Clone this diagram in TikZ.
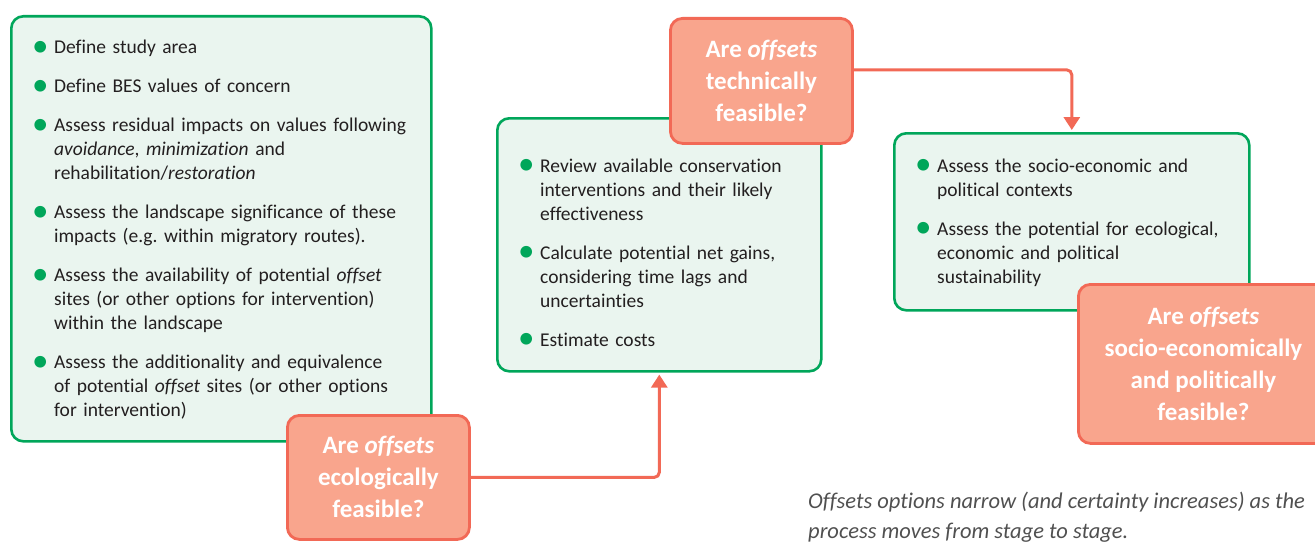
\documentclass[tikz,border=0pt]{standalone}
\usepackage{fontspec}
\setmainfont{Carlito}[Ligatures=NoCommon]
\usepackage{tikz}
\usetikzlibrary{arrows.meta}

\definecolor{stagegreen}{RGB}{0,166,90}
\definecolor{stagefill}{RGB}{234,245,239}
\definecolor{askfill}{RGB}{249,165,141}
\definecolor{askline}{RGB}{242,105,86}
\definecolor{bodytext}{RGB}{35,31,32}
\definecolor{notegray}{RGB}{80,80,80}

\newcommand\gbullet{\makebox[22pt][l]{\textcolor{stagegreen}{\fontsize{33}{33}\selectfont\raisebox{-2.7pt}{\textbullet}}}}
\newcommand\bitem[1]{\noindent\hangindent=22pt\hangafter=1\gbullet#1\par}
\newcommand\itemgap{\par\vspace{15pt}}

\begin{document}
\begin{tikzpicture}[x=1pt,y=-1pt,
  stagebox/.style={draw=stagegreen,fill=stagefill,line width=2.6pt,rounded corners=12pt,anchor=north west,inner sep=0pt},
  stagelist/.style={anchor=base west,inner sep=0pt,align=left,text=bodytext,font=\fontsize{19.5}{24}\selectfont},
  askbox/.style={draw=askline,fill=askfill,line width=2.8pt,rounded corners=12pt,anchor=north west,inner sep=0pt,align=center,text=white,font=\bfseries\fontsize{25}{32}\selectfont},
  flow/.style={draw=askline,line width=3pt,rounded corners=5pt,shorten >=2pt,-{Triangle[width=16pt,length=13pt]}}]

\useasboundingbox (0,0) rectangle (1315,543);

% stages
\node[stagebox,minimum width=420pt,minimum height=425pt] (boxA) at (10,15) {};
\node[stagebox,minimum width=324pt,minimum height=253pt] (boxB) at (496,117) {};
\node[stagebox,minimum width=355pt,minimum height=177pt] (boxC) at (893,132) {};

\node[stagelist,text width=395pt] (listA) at (32,54) {%
  \bitem{Define study area}\itemgap
  \bitem{Define BES values of concern}\itemgap
  \bitem{Assess residual impacts on values following\newline \textit{avoidance}, \textit{minimization} and\newline rehabilitation/\textit{restoration}}\itemgap
  \bitem{Assess the landscape significance of these\newline impacts (e.g.\ within migratory routes).}\itemgap
  \bitem{Assess the availability of potential \textit{offset}\newline sites (or other options for intervention)\newline within the landscape}\itemgap
  \bitem{Assess the additionality and equivalence\newline of potential \textit{offset} sites (or other options\newline for intervention)}};

\node[stagelist,text width=295pt] (listB) at (518,172) {%
  \bitem{Review available conservation\newline interventions and their likely\newline effectiveness}\itemgap
  \bitem{Calculate potential net gains,\newline considering time lags and\newline uncertainties}\itemgap
  \bitem{Estimate costs}};

\node[stagelist,text width=325pt] (listC) at (915,172) {%
  \bitem{Assess the socio-economic and\newline political contexts}\itemgap
  \bitem{Assess the potential for ecological,\newline economic and political\newline sustainability}};

% questions
\node[askbox,minimum width=182pt,minimum height=124pt] (askA) at (286,414) {Are \textit{offsets}\\ ecologically\\ feasible?};
\node[askbox,minimum width=182pt,minimum height=125pt] (askB) at (669,17) {Are \textit{offsets}\\ technically\\ feasible?};
\node[askbox,minimum width=250pt,minimum height=159pt] (askC) at (1077,283) {Are \textit{offsets}\\ socio-economically\\ and politically\\ feasible?};

\draw[flow] (askA.east) -| (boxB.south);
\draw[flow] ([yshift=11pt]askB.east) -| (boxC.north);

\node[anchor=base west,inner sep=0pt,align=left,text=notegray,font=\itshape\fontsize{22.5}{30}\selectfont] (note) at (808,538)
  {Offsets options narrow (and certainty increases) as the\\ process moves from stage to stage.};
\end{tikzpicture}
\end{document}
